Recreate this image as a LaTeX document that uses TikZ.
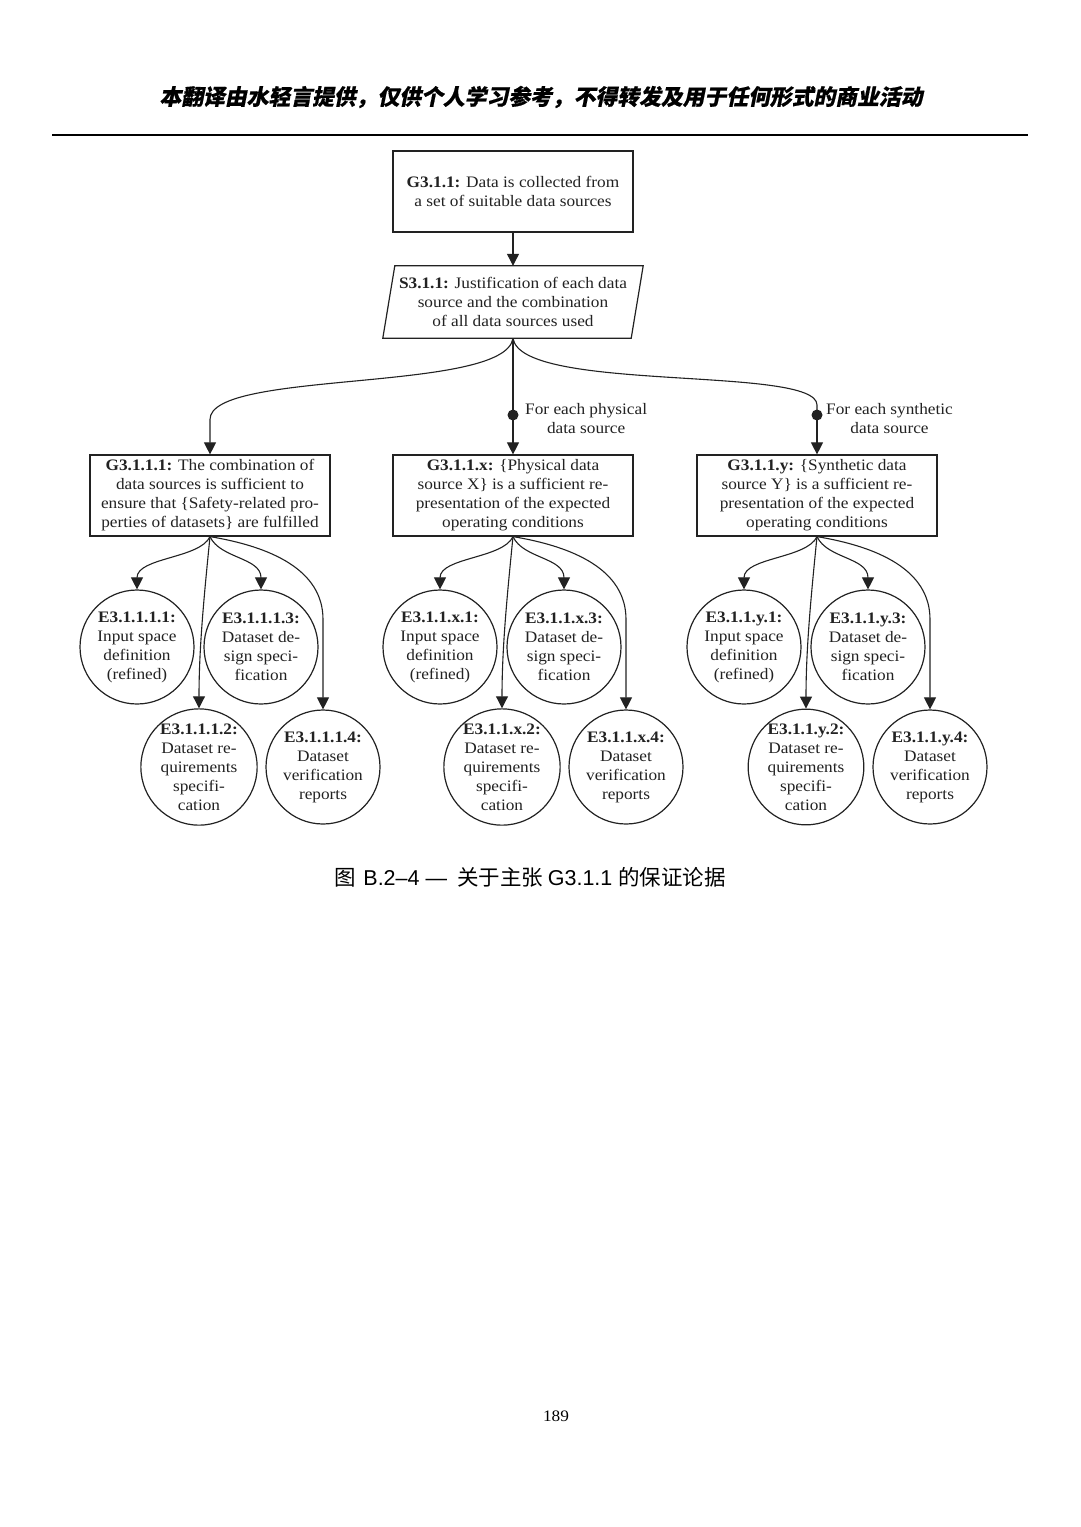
\documentclass[tikz,border=0pt]{standalone}
\usepackage{fontspec}
\setmainfont[FakeStretch=1.08]{Liberation Serif}
\newfontfamily\cjk{Noto Sans CJK SC}
\newfontfamily\capfont{Liberation Sans}
\newfontfamily\cjkhead[FakeSlant=0.2,FakeBold=0.6]{Noto Sans CJK SC}
\usetikzlibrary{arrows.meta}
\definecolor{ink}{HTML}{222222}
\begin{document}
\begin{tikzpicture}[x=1pt,y=1pt,
		txt/.style={text=ink, align=center, font=\fontsize{16}{19}\selectfont},
		goalbox/.style={txt, draw=ink, line width=1.2pt, minimum width=240pt, minimum height=81pt, inner sep=2pt},
		evid/.style={txt, draw=ink, line width=1.2pt, circle, minimum size=114pt, inner sep=0pt},
		forall/.style={fill=ink, circle, minimum size=11pt, inner sep=0pt},
		arr/.style={draw=ink, line width=1.1pt, -{Triangle[width=12pt,length=12pt]}},
		link/.style={draw=ink, line width=1.1pt}]
	\useasboundingbox (0,0) rectangle (1080,-1527);
	\fill[white] (0,0) rectangle (1080,-1527);
	\node[font=\cjkhead\bfseries\fontsize{21.8}{24}\selectfont] (head) at (541,-97) {本翻译由水轻言提供，仅供个人学习参考，不得转发及用于任何形式的商业活动};
	\draw[line width=1.8pt] (52,-135) -- (1028,-135);
	\node[goalbox] (g311) at (513,-191.5) {\textbf{G3.1.1:} Data is collected from\\a set of suitable data sources};
	\node[txt, minimum width=248pt, minimum height=72pt, inner sep=0pt] (s311) at (513,-302) {\textbf{S3.1.1:} Justification of each data\\source and the combination\\of all data sources used};
	\draw[draw=ink, line width=1.2pt] ([xshift=6pt]s311.north west) -- ([xshift=6pt]s311.north east) -- ([xshift=-6pt]s311.south east) -- ([xshift=-6pt]s311.south west) -- cycle;
	\node[goalbox] (g1) at (210,-495.5) {\textbf{G3.1.1.1:} The combination of\\data sources is sufficient to\\ensure that \{Safety-related pro-\\perties of datasets\} are fulfilled};
	\node[goalbox] (gx) at (513,-495.5) {\textbf{G3.1.1.x:} \{Physical data\\source X\} is a sufficient re-\\presentation of the expected\\operating conditions};
	\node[goalbox] (gy) at (817,-495.5) {\textbf{G3.1.1.y:} \{Synthetic data\\source Y\} is a sufficient re-\\presentation of the expected\\operating conditions};
	\node[forall] (dx) at (513,-415) {};
	\node[forall] (dy) at (817,-415) {};
	\node[txt, anchor=west, inner sep=2pt] (nx) at ([xshift=10pt,yshift=-4pt]dx.center) {For each physical\\data source};
	\node[txt, anchor=west, inner sep=2pt] (ny) at ([xshift=7pt,yshift=-4pt]dy.center) {For each synthetic\\data source};
	\draw[arr] (g311) -- (s311);
	\draw[arr] (s311.south) .. controls +(-8,-55) and +(0,50) .. ([yshift=35pt]g1.north) -- (g1.north);
	\draw[arr] (s311.south) -- (dx.center) -- (gx.north);
	\draw[link] (s311.south) .. controls +(8,-55) and +(0,40) .. ([yshift=10pt]dy.center) -- (dy.center);
	\draw[arr] (dy.center) -- (gy.north);
	\foreach \g/\cx in {1/210, x/513, y/817} {
		\node[evid] (e\g1) at (\cx-73,-647) {\textbf{E3.1.1.\g.1:}\\Input space\\definition\\(refined)};
		\node[evid] (e\g3) at (\cx+51,-647) {\textbf{E3.1.1.\g.3:}\\Dataset de-\\sign speci-\\fication};
		\node[evid] (e\g2) at (\cx-11,-767) {\textbf{E3.1.1.\g.2:}\\Dataset re-\\quirements\\specifi-\\cation};
		\node[evid] (e\g4) at (\cx+113,-767) {\textbf{E3.1.1.\g.4:}\\Dataset\\verification\\reports};
		\draw[arr] (g\g.south) .. controls +(-10,-22) and +(0,32) .. (e\g1.north);
		\draw[arr] (g\g.south) .. controls +(10,-22) and +(0,32) .. (e\g3.north);
		\draw[arr] (g\g.south) .. controls +(-6,-60) and +(0,60) .. (e\g2.north);
		\draw[arr] (g\g.south) .. controls +(60,-10) and +(0,50) .. ([yshift=90pt]e\g4.north) -- (e\g4.north);
	}
	\node[font=\fontsize{21.5}{24}\selectfont] (cap) at (530,-877) {\cjk 图\hspace{3pt} \capfont B.2–4 — \hspace{4pt}\cjk 关于主张 \capfont G3.1.1 \cjk 的保证论据};
	\node[font=\fontsize{16}{18}\selectfont] (pg) at (556,-1416) {189};
\end{tikzpicture}
\end{document}
